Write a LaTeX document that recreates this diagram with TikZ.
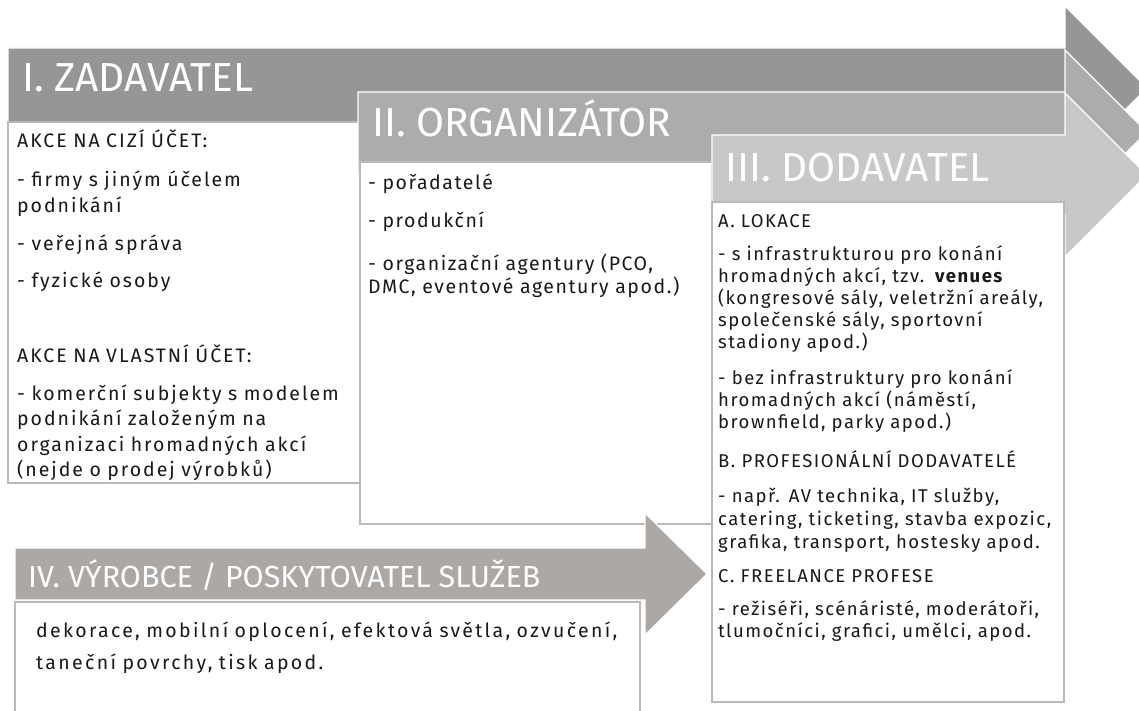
\documentclass[tikz,border=0pt]{standalone}
\usepackage{fontspec}
\setmainfont{Fira Sans}
\newfontfamily\bodyfont[LetterSpace=8]{Fira Sans}
\newfontfamily\bodyfontI[LetterSpace=10]{Fira Sans}
\newfontfamily\widefont[LetterSpace=12]{Fira Sans}
\definecolor{gI}{RGB}{150,150,150}
\definecolor{gII}{RGB}{172,172,172}
\definecolor{gIII}{RGB}{200,200,200}
\definecolor{gIV}{RGB}{172,168,166}
\definecolor{boxgray}{RGB}{185,185,185}
\definecolor{txtc}{RGB}{25,25,25}
\tikzset{
  arrowshape/.style={draw=white, line width=1.2pt},
  boxshape/.style={fill=white, draw=boxgray, line width=1.5pt},
  hdr/.style={anchor=base west, inner sep=0pt, text=white, font=\fontsize{40.5}{42}\selectfont},
  hdrsmall/.style={anchor=base west, inner sep=0pt, text=white, font=\fontsize{30.5}{32}\selectfont},
  txt/.style={anchor=base west, inner sep=0pt, text=txtc, text width=420pt, align=left, font=\bodyfont\fontsize{19.5}{25.5}\selectfont},
  txtI/.style={txt, font=\bodyfontI\fontsize{19.5}{25.5}\selectfont},
  txtc3/.style={txt, font=\bodyfont\fontsize{18.5}{22}\selectfont},
}
\begin{document}
\begin{tikzpicture}[x=1pt,y=-1pt]
\useasboundingbox (0,0) rectangle (1139,711);
\clip (0,0) rectangle (1139,711);
% Arrow I
\draw[arrowshape, fill=gI] (8,48) -- (1065,48) -- (1065,6) -- (1147,88) -- (1065,170) -- (1065,128) -- (8,128) -- cycle;
\draw[boxshape] (8,122) rectangle (360,483);
\node[hdr] (hI) at (22,92) {I. ZADAVATEL};
% Arrow II
\draw[arrowshape, fill=gII] (358,92) -- (1065,92) -- (1065,50) -- (1147,132) -- (1065,214) -- (1065,172) -- (358,172) -- cycle;
\draw[boxshape] (360,162) rectangle (712,524);
\node[hdr] (hII) at (372,137) {II. ORGANIZÁTOR};
% Arrow III
\draw[arrowshape, fill=gIII] (712,135) -- (1065,135) -- (1065,93) -- (1147,175) -- (1065,257) -- (1065,215) -- (712,215) -- cycle;
\draw[boxshape] (712,202) rectangle (1064,702);
\node[hdr] (hIII) at (725,182) {III. DODAVATEL};
% Arrow IV
\draw[arrowshape, fill=gIV] (15,548) -- (645,548) -- (645,513) -- (707,574) -- (645,635) -- (645,600) -- (15,600) -- cycle;
\draw[boxshape] (15,602) rectangle (640,730);
\node[hdrsmall] (hIV) at (28,587) {IV. VÝROBCE / POSKYTOVATEL SLUŽEB};

% Box I text
\node[txtI] (a1) at (17,148) {AKCE NA CIZÍ ÚČET:};
\node[txtI] (a2) at (17,187) {- firmy s jiným účelem\\podnikání};
\node[txtI] (a3) at (17,250) {- veřejná správa};
\node[txtI] (a4) at (17,287) {- fyzické osoby};
\node[txtI] (a5) at (17,362) {AKCE NA VLASTNÍ ÚČET:};
\node[txtI] (a6) at (17,400) {- komerční subjekty s modelem\\podnikání založeným na\\organizaci hromadných akcí\\(nejde o prodej výrobků)};

% Box II text
\node[txt] (b1) at (368,190) {- pořadatelé};
\node[txt] (b2) at (368,227) {- produkční};
\node[txt, font=\bodyfont\fontsize{19.5}{23}\selectfont] (b3) at (368,270) {- organizační agentury (PCO,\\DMC, eventové agentury apod.)};

% Box III text
\node[txtc3] (c1) at (718,227) {A. LOKACE};
\node[txtc3] (c2) at (718,260) {- s infrastrukturou pro konání\\hromadných akcí, tzv. \textbf{venues}\\(kongresové sály, veletržní areály,\\společenské sály, sportovní\\stadiony apod.)};
\node[txtc3] (c3) at (718,384) {- bez infrastruktury pro konání\\hromadných akcí (náměstí,\\brownfield, parky apod.)};
\node[txtc3] (c4) at (718,467) {B. PROFESIONÁLNÍ DODAVATELÉ};
\node[txtc3, font=\bodyfont\fontsize{18.5}{23}\selectfont] (c5) at (718,502) {- např. AV technika, IT služby,\\catering, ticketing, stavba expozic,\\grafika, transport, hostesky apod.};
\node[txtc3] (c6) at (718,582) {C. FREELANCE PROFESE};
\node[txtc3] (c7) at (718,615) {- režiséři, scénáristé, moderátoři,\\tlumočníci, grafici, umělci, apod.};

% Box IV text
\node[txt, text width=620pt, font=\widefont\fontsize{19.5}{32}\selectfont] (d1) at (36,637) {dekorace, mobilní oplocení, efektová světla, ozvučení,\\taneční povrchy, tisk apod.};
\end{tikzpicture}
\end{document}
